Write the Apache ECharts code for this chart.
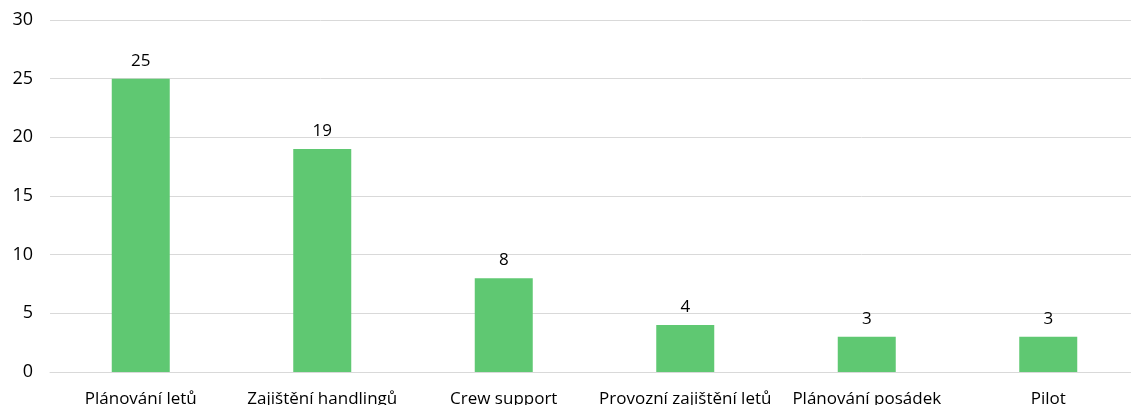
<!DOCTYPE html>
<html>
<head>
<meta charset="utf-8">
<script src="https://cdn.jsdelivr.net/npm/echarts@6/dist/echarts.min.js"></script>
<style>
  html, body { margin: 0; padding: 0; background: #fff; }
  #chart { width: 1131px; height: 405px; }
</style>
</head>
<body>
<div id="chart"></div>
<script>
var categories = ['Plánování letů', 'Zajištění handlingů', 'Crew support', 'Provozní zajištění letů', 'Plánování posádek', 'Pilot'];
var values = [25, 19, 8, 4, 3, 3];

var dom = document.getElementById('chart');
var myChart = echarts.init(dom);

var option = {
    animation: false,
    textStyle: { fontFamily: 'Open Sans' },
    grid: {
        left: 50,
        top: 20,
        width: 1089,
        height: 352,
        outerBoundsMode: 'none'
    },
    xAxis: {
        type: 'category',
        data: categories,
        axisLine: { lineStyle: { color: '#d9d9d9' } },
        axisTick: { show: false },
        axisLabel: {
            color: '#000',
            fontSize: 17,
            margin: 19,
            interval: 0
        }
    },
    yAxis: {
        type: 'value',
        min: 0,
        max: 30,
        interval: 5,
        axisLine: { show: false },
        axisTick: { show: false },
        axisLabel: { color: '#000', fontSize: 18, margin: 17 },
        splitLine: { lineStyle: { color: '#d9d9d9' } }
    },
    series: [
        {
            type: 'bar',
            data: values,
            barWidth: 58,
            itemStyle: { color: '#5fc872' },
            label: {
                show: true,
                position: 'top',
                distance: 9,
                color: '#000',
                fontSize: 17
            }
        }
    ]
};

myChart.setOption(option);
</script>
</body>
</html>
